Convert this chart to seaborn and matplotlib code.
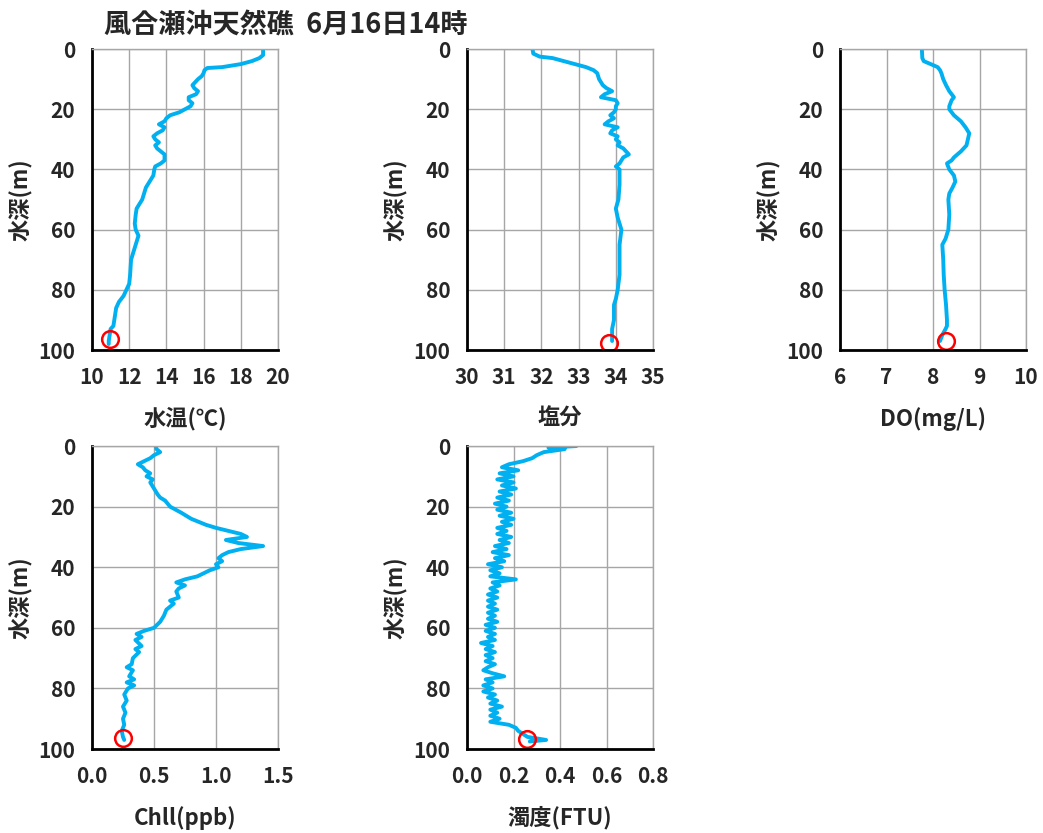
import matplotlib
matplotlib.use('Agg')
import matplotlib.pyplot as plt
import seaborn as sns

temp_depth = [0, 2, 3, 4, 5, 6, 6.3, 7, 8, 9, 10, 11, 12, 13, 14, 15, 16, 17, 18, 19, 20,
              21, 22, 23, 24, 25, 26, 27, 28, 29, 30, 31, 32, 33, 34, 35, 36, 37, 38, 39, 40,
              42, 44, 46, 48, 50, 52, 53, 55, 58, 60, 62, 65, 68, 70, 75, 78, 80, 82, 84, 86,
              88, 90, 92, 93, 95, 97, 98]
temp = [19.2, 19.2, 19.0, 18.6, 18.0, 17.0, 16.2, 16.05, 16.0, 15.9, 15.7, 15.55, 15.4, 15.5,
        15.7, 15.6, 15.2, 15.2, 15.4, 15.3, 15.0, 14.7, 14.2, 14.0, 13.9, 13.6, 13.9, 13.8,
        13.5, 13.3, 13.4, 13.6, 13.4, 13.5, 13.7, 13.9, 13.9, 13.9, 13.7, 13.4, 13.35, 13.3,
        13.1, 12.9, 12.8, 12.7, 12.5, 12.4, 12.35, 12.3, 12.35, 12.5, 12.35, 12.2, 12.1,
        12.05, 12.0, 11.85, 11.7, 11.45, 11.3, 11.25, 11.2, 11.15, 11.0, 10.95, 10.9, 10.9]

sal_depth = [0, 1.5, 2.5, 3, 4, 5, 6, 7, 8, 10, 11, 12, 13, 14, 15, 16, 17, 18, 19, 20, 21,
             22, 23, 24, 25, 26, 27, 28, 29, 30, 31, 32, 33, 35, 36, 38, 39, 40, 45, 50, 53,
             56, 60, 65, 70, 75, 80, 83, 85, 88, 90, 93, 95, 97]
sal = [31.76, 31.78, 31.95, 32.3, 32.6, 32.9, 33.2, 33.4, 33.5, 33.55, 33.6, 33.65, 33.75,
       33.9, 33.7, 33.6, 34.0, 34.05, 34.0, 34.0, 33.95, 33.85, 33.95, 33.8, 33.7, 34.05,
       33.9, 33.85, 34.05, 34.0, 34.1, 34.05, 34.2, 34.35, 34.2, 34.1, 34.0, 34.1, 34.1,
       34.07, 34.0, 34.05, 34.15, 34.1, 34.1, 34.1, 34.05, 34.0, 33.95, 33.95, 33.95, 33.9,
       33.9, 33.9]

do_depth = [0, 3, 4, 5, 6, 7, 8, 10, 12, 14, 16, 17, 19, 20, 22, 24, 26, 28, 30, 32, 34, 36,
            37, 38, 40, 42, 44, 46, 48, 50, 55, 60, 63, 65, 70, 75, 80, 85, 90, 92, 93, 95, 97]
do = [7.76, 7.77, 7.8, 7.95, 8.1, 8.15, 8.18, 8.22, 8.28, 8.35, 8.45, 8.4, 8.35, 8.35, 8.45,
      8.6, 8.7, 8.78, 8.75, 8.72, 8.6, 8.45, 8.4, 8.3, 8.35, 8.45, 8.48, 8.42, 8.35, 8.33,
      8.35, 8.33, 8.27, 8.2, 8.22, 8.23, 8.25, 8.28, 8.3, 8.3, 8.27, 8.2, 8.15]

chl_depth = [0, 1, 2, 3, 4, 5, 6, 7, 8, 9, 10, 11, 12, 14, 16, 17, 18, 20, 22, 24, 26, 27,
             28, 29, 30, 31, 32, 33, 34, 35, 36, 37, 38, 39, 40, 41, 42, 43, 44, 45, 46, 47,
             48, 50, 51, 52, 54, 56, 58, 60, 61, 62, 63, 64, 66, 67, 68, 70, 72, 73, 74, 76,
             77, 78, 79, 80, 82, 84, 86, 88, 90, 92, 94, 96, 97]
chl = [0.515, 0.52, 0.55, 0.5, 0.47, 0.42, 0.37, 0.41, 0.43, 0.47, 0.44, 0.49, 0.47, 0.5,
       0.53, 0.55, 0.59, 0.63, 0.72, 0.8, 0.92, 1.0, 1.1, 1.2, 1.25, 1.08, 1.18, 1.38, 1.2,
       1.1, 1.05, 1.02, 1.05, 1.0, 1.02, 0.95, 0.9, 0.85, 0.75, 0.68, 0.75, 0.7, 0.68, 0.7,
       0.63, 0.66, 0.6, 0.58, 0.55, 0.5, 0.42, 0.36, 0.4, 0.35, 0.4, 0.35, 0.38, 0.33, 0.32,
       0.28, 0.33, 0.3, 0.34, 0.28, 0.34, 0.29, 0.26, 0.28, 0.25, 0.27, 0.25, 0.26, 0.24,
       0.25, 0.26]

turb_depth = [0, 0.5, 1, 2, 3, 4, 5, 6, 7, 8, 9, 10, 11, 12, 13, 14, 15, 16, 17, 18, 19, 20,
              21, 22, 23, 24, 25, 26, 27, 28, 29, 30, 31, 32, 33, 34, 35, 36, 37, 38, 39, 40,
              41, 42, 43, 44, 45, 46, 47, 48, 49, 50, 51, 52, 53, 54, 55, 56, 57, 58, 59, 60,
              61, 62, 63, 64, 65, 66, 67, 68, 69, 70, 71, 72, 73, 74, 75, 76, 77, 78, 79, 80,
              81, 82, 83, 84, 85, 86, 87, 88, 89, 90, 91, 92, 93, 94, 95, 96, 97, 97.5]
turb = [0.47, 0.35, 0.42, 0.33, 0.3, 0.28, 0.24, 0.18, 0.15, 0.22, 0.14, 0.2, 0.13, 0.2,
        0.15, 0.21, 0.14, 0.19, 0.13, 0.18, 0.12, 0.17, 0.13, 0.19, 0.14, 0.2, 0.15, 0.19,
        0.13, 0.17, 0.13, 0.19, 0.14, 0.18, 0.12, 0.17, 0.11, 0.18, 0.12, 0.16, 0.09, 0.15,
        0.1, 0.14, 0.1, 0.21, 0.11, 0.14, 0.1, 0.13, 0.09, 0.13, 0.09, 0.12, 0.09, 0.13, 0.09,
        0.12, 0.09, 0.13, 0.08, 0.12, 0.08, 0.12, 0.09, 0.12, 0.06, 0.11, 0.08, 0.12, 0.08,
        0.11, 0.08, 0.12, 0.09, 0.07, 0.11, 0.16, 0.08, 0.11, 0.07, 0.11, 0.07, 0.12, 0.09,
        0.13, 0.1, 0.15, 0.1, 0.13, 0.1, 0.14, 0.1, 0.18, 0.21, 0.22, 0.24, 0.26, 0.34, 0.27]

# 底層の測定点(赤丸)
bottom_x = [10.98, 33.82, 8.28, 0.25, 0.257]
bottom_depth = [96.3, 97.8, 97.0, 96.5, 96.8]

labels = ['水温(℃)', '塩分', 'DO(mg/L)', 'Chll(ppb)', '濁度(FTU)']
xlims = [(10, 20), (30, 35), (6, 10), (0, 1.5), (0, 0.8)]
xticks = [[10, 12, 14, 16, 18, 20], [30, 31, 32, 33, 34, 35], [6, 7, 8, 9, 10],
          [0.0, 0.5, 1.0, 1.5], [0.0, 0.2, 0.4, 0.6, 0.8]]
xfmt = ['{:.0f}', '{:.0f}', '{:.0f}', '{:.1f}', '{:.1f}']

profiles = [(temp, temp_depth), (sal, sal_depth), (do, do_depth), (chl, chl_depth), (turb, turb_depth)]

sns.set_theme(style='white')
plt.rcParams['font.family'] = ['Noto Sans CJK JP', 'DejaVu Sans']
plt.rcParams['font.weight'] = 'bold'

fig = plt.figure(figsize=(10.43, 8.33), dpi=100)

# 各パネルの位置(左, 下, 幅, 高さ)
positions = [
    (0.0882, 0.5798, 0.1783, 0.3613),
    (0.4478, 0.5798, 0.1783, 0.3613),
    (0.8054, 0.5798, 0.1783, 0.3613),
    (0.0882, 0.1008, 0.1783, 0.3637),
    (0.4478, 0.1008, 0.1783, 0.3637),
]

blue = '#00B0F0'
grid_col = '#A6A6A6'

for i, (vals, dep) in enumerate(profiles):
    ax = fig.add_axes(positions[i])
    sns.lineplot(x=vals, y=dep, sort=False, estimator=None, color=blue, linewidth=2.8, ax=ax)
    ax.plot(bottom_x[i], bottom_depth[i], marker='o', markersize=12, markerfacecolor='none',
            markeredgecolor='red', markeredgewidth=1.8, linestyle='none')
    ax.set_xlim(*xlims[i])
    ax.set_ylim(100, 0)
    ax.set_xticks(xticks[i])
    ax.set_xticklabels([xfmt[i].format(v) for v in xticks[i]])
    ax.set_yticks([0, 20, 40, 60, 80, 100])
    ax.grid(True, color=grid_col, linewidth=1)
    for s in ['top', 'right']:
        ax.spines[s].set_color(grid_col)
        ax.spines[s].set_linewidth(1)
    for s in ['left', 'bottom']:
        ax.spines[s].set_color('black')
        ax.spines[s].set_linewidth(2)
    ax.tick_params(axis='both', which='major', direction='out', length=5, width=1.5,
                   color='black', labelsize=15, pad=7)
    for t in ax.get_xticklabels() + ax.get_yticklabels():
        t.set_fontweight('bold')
    ax.set_xlabel(labels[i], fontsize=16, fontweight='bold', labelpad=14)
    ax.set_ylabel('水深(m)', fontsize=16, fontweight='bold', labelpad=4)

fig.text(0.1, 0.969, '風合瀬沖天然礁  6月16日14時', fontsize=19.5, fontweight='bold',
         ha='left', va='center')

fig.savefig('out.png', dpi=100)
